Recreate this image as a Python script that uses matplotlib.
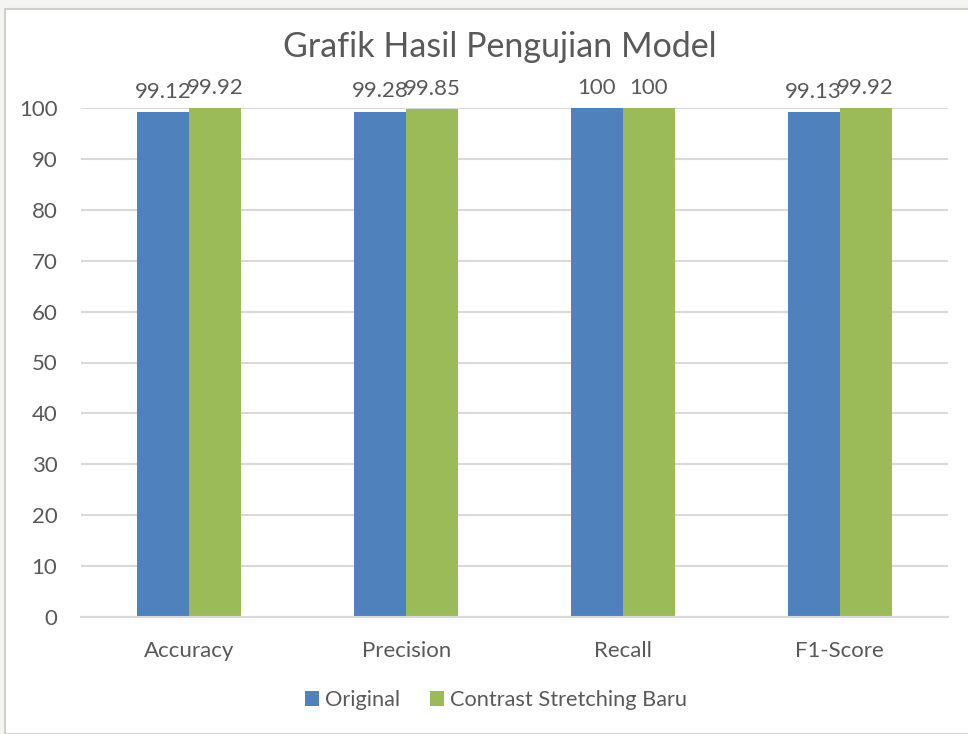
import numpy as np
import matplotlib.pyplot as plt
from matplotlib.patches import Rectangle

plt.rcParams['font.family'] = ['Lato', 'DejaVu Sans']

metrics = ['Accuracy', 'Precision', 'Recall', 'F1-Score']
original = [99.12, 99.28, 100, 99.13]
contrast = [99.92, 99.85, 100, 99.92]
orig_labels = ['99.12', '99.28', '100', '99.13']
contrast_labels = ['99.92', '99.85', '100', '99.92']

blue = '#4F81BD'
green = '#9BBB59'
txt = '#595959'
grid = '#D9D9D9'

fig = plt.figure(figsize=(9.68, 7.34), dpi=100)
fig.patch.set_facecolor('#F4F4F2')
# white chart frame behind everything
frame = Rectangle((5 / 968, 0), 1.0, 1 - 9 / 734, transform=fig.transFigure,
                  facecolor='white', edgecolor='#D0D0D0', linewidth=1.5, zorder=-10)
fig.add_artist(frame)

ax = fig.add_axes([81 / 968, 1 - 617 / 734, 867 / 968, 509 / 734])
ax.set_facecolor('none')
ax.set_zorder(2)

x = np.arange(len(metrics))
w = 0.24
b1 = ax.bar(x - w / 2, original, w, color=blue, label='Original', zorder=2)
b2 = ax.bar(x + w / 2, contrast, w, color=green, label='Contrast Stretching Baru', zorder=2)

for rect, lab in zip(b1, orig_labels):
    ax.text(rect.get_x() + rect.get_width() / 2, rect.get_height() + 2.0, lab,
            ha='center', va='bottom', fontsize=16, color=txt, clip_on=False)
for rect, lab in zip(b2, contrast_labels):
    ax.text(rect.get_x() + rect.get_width() / 2, rect.get_height() + 2.0, lab,
            ha='center', va='bottom', fontsize=16, color=txt, clip_on=False)

ax.set_xlim(-0.5, 3.5)
ax.set_ylim(0, 100)
ax.set_yticks(range(0, 101, 10))
ax.set_xticks(x)
ax.set_xticklabels(metrics)
ax.tick_params(axis='both', length=0, labelsize=16, labelcolor=txt)
ax.tick_params(axis='x', pad=17)
ax.tick_params(axis='y', pad=17)
ax.yaxis.grid(True, color=grid, linewidth=1.5, zorder=0)
ax.set_axisbelow(True)
for s in ['top', 'right', 'left']:
    ax.spines[s].set_visible(False)
ax.spines['bottom'].set_color(grid)
ax.spines['bottom'].set_linewidth(1.5)

fig.text(500 / 968, 1 - 47 / 734, 'Grafik Hasil Pengujian Model', ha='center', va='center',
         fontsize=24.5, color=txt)

fig.legend(handles=[b1, b2], loc='center', bbox_to_anchor=(496 / 968, 1 - 700 / 734),
           ncol=2, frameon=False, fontsize=15.7, labelcolor=txt, handlelength=0.65,
           handleheight=0.65, handletextpad=0.25, columnspacing=1.4)

fig.savefig('out.png', dpi=100, facecolor=fig.get_facecolor())
